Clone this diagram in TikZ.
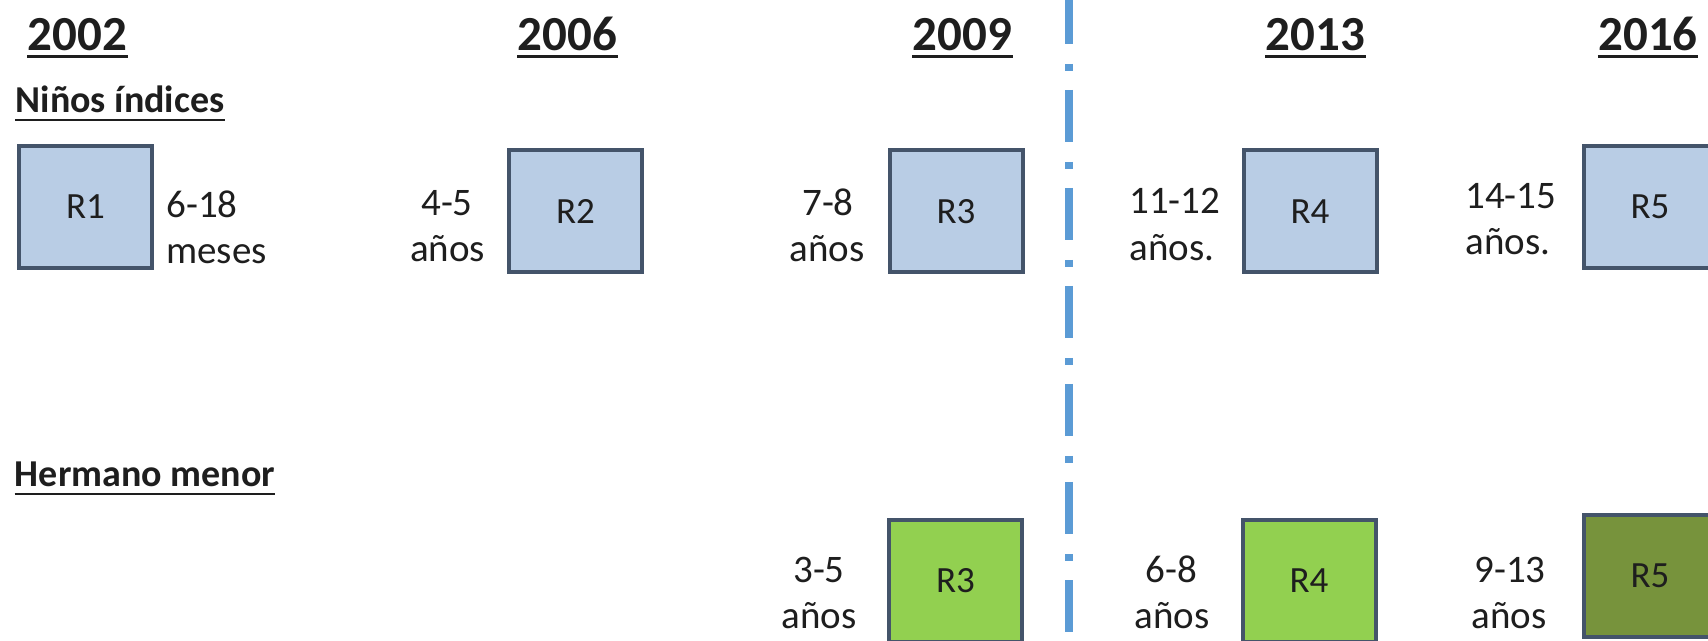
\documentclass[tikz,border=0pt]{standalone}
\usepackage{fontspec}
\setmainfont{Carlito}
\definecolor{txt}{HTML}{1E1E1E}
\definecolor{edge}{HTML}{44546A}
\definecolor{bluefill}{HTML}{B9CDE5}
\definecolor{greenfill}{HTML}{92D050}
\definecolor{olivefill}{HTML}{77933C}
\definecolor{dashblue}{HTML}{5B9BD5}
\begin{document}
\begin{tikzpicture}[x=0.5pt,y=-0.5pt,
  yearlbl/.style={font=\fontsize{24.5}{30}\selectfont\bfseries, text=txt, inner sep=0pt, anchor=base},
  headlbl/.style={font=\fontsize{19}{23}\selectfont\bfseries, text=txt, inner sep=0pt, anchor=base},
  agelbl/.style={font=\fontsize{19.5}{23}\selectfont, text=txt, inner sep=0pt, anchor=base},
  agelblw/.style={agelbl, anchor=base west},
  rbox/.style={draw=edge, line width=2pt, minimum width=66.5pt, minimum height=61pt, inner sep=0pt, font=\fontsize{18.5}{22}\selectfont, text=txt},
  bluebox/.style={rbox, fill=bluefill},
  greenbox/.style={rbox, fill=greenfill},
  olivebox/.style={rbox, fill=olivefill},
  yline/.style={draw=txt, line width=1.5pt},
  hline/.style={draw=txt, line width=1.25pt},
  sep/.style={draw=dashblue, line width=4pt, dash pattern=on 26pt off 10pt on 3.5pt off 9.5pt}
]
\useasboundingbox (0,0) rectangle (1708,641);
\clip (0,0) rectangle (1708,641);
\fill[white] (0,0) rectangle (1708,641);

% years
\node[yearlbl] (y2002) at (77.5,51) {2002};
\node[yearlbl] (y2006) at (567.5,51) {2006};
\node[yearlbl] (y2009) at (962.5,51) {2009};
\node[yearlbl] (y2013) at (1315.5,51) {2013};
\node[yearlbl] (y2016) at (1648,51) {2016};
\foreach \n in {y2002,y2006,y2009,y2013,y2016}
  \draw[yline] ([yshift=-3pt]\n.base west) -- ([yshift=-3pt]\n.base east);

% section headings
\node[headlbl] (hidx) at (120,113) {Niños índices};
\draw[hline] ([yshift=-3.5pt]hidx.base west) -- ([yshift=-3.5pt]hidx.base east);
\node[headlbl] (hmen) at (145,487) {Hermano menor};
\draw[hline] ([yshift=-3.5pt]hmen.base west) -- ([yshift=-3.5pt]hmen.base east);

% separator
\coordinate (dtop) at (1069,-8);
\coordinate (dbot) at (1069,700);
\draw[sep] (dtop) -- (dbot);

% top row boxes
\node[bluebox] (r1) at (85.5,207) {R1};
\node[bluebox] (r2) at (575.5,211.5) {R2};
\node[bluebox] (r3) at (956,211.5) {R3};
\node[bluebox] (r4) at (1310,211.5) {R4};
\node[bluebox] (r5) at (1650,207) {R5};

% top row ages
\node[agelblw] (a1a) at (166,218) {6-18};
\node[agelblw] (a1b) at (166,264) {meses};
\node[agelbl] (a2a) at (447,216) {4-5};
\node[agelbl] (a2b) at (447.5,262) {años};
\node[agelbl] (a3a) at (828,216) {7-8};
\node[agelbl] (a3b) at (827,262) {años};
\node[agelblw] (a4a) at (1129,214) {11-12};
\node[agelblw] (a4b) at (1129,261) {años.};
\node[agelblw] (a5a) at (1465,209) {14-15};
\node[agelblw] (a5b) at (1465,255) {años.};

% bottom row boxes
\node[greenbox] (g3) at (955.5,581) {R3};
\node[greenbox] (g4) at (1309,581) {R4};
\node[olivebox] (g5) at (1650,576) {R5};

% bottom row ages
\node[agelbl] (b3a) at (819,582) {3-5};
\node[agelbl] (b3b) at (819,628) {años};
\node[agelbl] (b4a) at (1171.5,582) {6-8};
\node[agelbl] (b4b) at (1172,628) {años};
\node[agelbl] (b5a) at (1510,582) {9-13};
\node[agelbl] (b5b) at (1509,628) {años};
\end{tikzpicture}
\end{document}
